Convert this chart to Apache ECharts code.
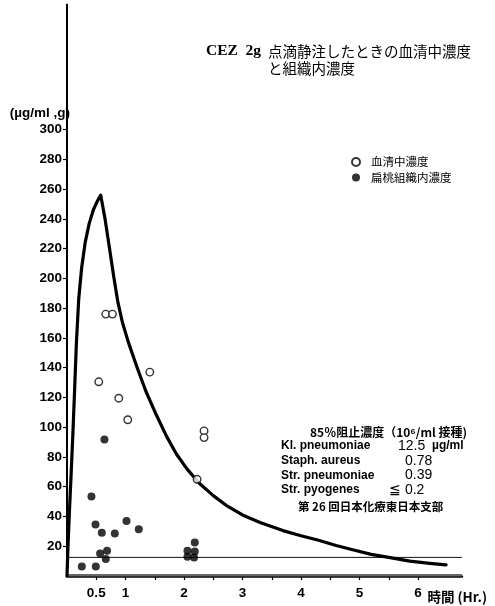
<!DOCTYPE html>
<html><head><meta charset="utf-8">
<script src="https://cdn.jsdelivr.net/npm/echarts@6/dist/echarts.min.js"></script>
<style>html,body{margin:0;padding:0;background:#fff}#c{width:495px;height:606px}</style>
</head><body><div id="c"></div>
<script>
// ---- data ----
const yTickValues = [20,40,60,80,100,120,140,160,180,200,220,240,260,280,300];
const xTickValues = [0.5,1,1.5,2,2.5,3,3.5,4,4.5,5,5.5,6];
const xLabelValues = [0.5,1,2,3,4,5,6];

// fitted serum curve (hours, µg/ml)
const curveHours  = [0.0,0.015,0.04,0.07,0.1,0.13,0.16,0.2,0.25,0.31,0.38,0.45,0.52,0.576,0.65,0.72,0.80,0.87,0.95,1.05,1.2,1.35,1.53,1.7,1.87,2.05,2.27,2.5,2.72,3.0,3.3,3.69,4.0,4.3,4.6,4.9,5.2,5.5,5.86,6.2,6.48];
const curveValues = [0,18,42,68,95,125,156,186,207,224,237,246,252,256,240,222,201,184,170,157,140,124,108,94,82,72,62,54,47.5,41,36,30.5,27,24,20.5,17.5,14.5,12.5,10,8.5,7.5];

// 血清中濃度 (open circles)
const serumHours  = [0.663,0.777,1.415,0.543,0.885,1.039,2.343,2.343,2.224];
const serumValues = [176,176,137,130.5,119.5,105,97.5,93,65];

// 扁桃組織内濃度 (filled circles)
const tissueHours  = [0.64,0.418,0.487,0.595,0.817,1.017,1.227,0.566,0.685,0.663,0.253,0.492,2.059,2.184,2.184,2.059,2.172];
const tissueValues = [91.7,53.4,34.6,29,28.6,37,31.5,15.1,16.9,11.5,6.4,6.4,17,22.5,16.5,13,12.5];

// 85% inhibitory concentrations (µg/ml)
const micNames  = ['Kl. pneumoniae','Staph. aureus','Str. pneumoniae','Str. pyogenes'];
const micValues = [12.5,0.78,0.39,0.2];
const micLabels = ['12.5','0.78','0.39','≦ 0.2'];

const xMax = 6.75, yMax = 384;

// ---- chart ----
const chart = echarts.init(document.getElementById('c'), null, {renderer:'canvas'});
const latin = 'Liberation Sans, Arial, sans-serif';
const cjk = 'Noto Sans CJK JP, sans-serif';

const micSeries = micValues.map((v,i)=>({
  type:'line', name:'mic'+i, silent:true, symbol:'none', z:1,
  data:[[0,v],[xMax,v]],
  lineStyle:{color: i===0 ? '#111' : '#666', width: i===0 ? 1 : 1.5}
}));

const option = {
  animation:false,
  backgroundColor:'#fff',
  grid:{left:67, right:495-67-xMax*58.5, top:606-30-yMax*1.488, bottom:30, containLabel:false},
  xAxis:{
    type:'value', min:0, max:xMax,
    axisLine:{show:true, lineStyle:{color:'#000', width:2.5}},
    axisTick:{show:true, length:4, customValues:xTickValues, lineStyle:{color:'#000', width:1.2}},
    axisLabel:{customValues:xLabelValues, margin:10, color:'#000', fontFamily:latin, fontWeight:'bold', fontSize:13.5,
      formatter:v=>String(v)},
    splitLine:{show:false}
  },
  yAxis:{
    type:'value', min:0, max:yMax,
    axisLine:{show:true, lineStyle:{color:'#000', width:2}},
    axisTick:{show:true, length:4, customValues:yTickValues, lineStyle:{color:'#000', width:1.2}},
    axisLabel:{customValues:yTickValues, margin:5, color:'#000', fontFamily:latin, fontWeight:'bold', fontSize:13.5},
    splitLine:{show:false}
  },
  legend:{
    left:346, top:151, orient:'vertical', itemWidth:8, itemHeight:8, itemGap:3.5,
    data:['血清中濃度','扁桃組織内濃度'],
    textStyle:{fontFamily:cjk, fontSize:11.5, color:'#000', lineHeight:12, padding:[0,0,0,6]},
    icon:'circle'
  },
  series:[
    ...micSeries,
    {type:'line', name:'curve', data:curveHours.map((h,i)=>[h,curveValues[i]]), symbol:'none',
      smooth:false, z:3, lineStyle:{color:'#000', width:3.2, join:'round', cap:'round'}},
    {type:'scatter', name:'血清中濃度', data:serumHours.map((h,i)=>[h,serumValues[i]]), symbol:'circle', symbolSize:7.5, z:5,
      itemStyle:{color:'#fff', borderColor:'#000', borderWidth:1.4}},
    {type:'scatter', name:'扁桃組織内濃度', data:tissueHours.map((h,i)=>[h,tissueValues[i]]), symbol:'circle', symbolSize:8, z:5,
      itemStyle:{color:'#000'}}
  ],
  graphic:[
    {type:'text', x:206, y:51, style:{text:'CEZ  2g', font:'bold 15.5px Liberation Serif, serif', fill:'#000', verticalAlign:'middle'}},
    {type:'text', x:268, y:51, style:{text:'点滴静注したときの血清中濃度', font:'14.5px '+cjk, fill:'#000', verticalAlign:'middle'}},
    {type:'text', x:268, y:68, style:{text:'と組織内濃度', font:'14.5px '+cjk, fill:'#000', verticalAlign:'middle'}},
    {type:'text', x:70, y:113, style:{text:'(µg/ml ,g)', font:'bold 13.5px '+latin, fill:'#000', align:'right', verticalAlign:'middle'}},
    {type:'text', x:487, y:597, style:{text:'時間 (Hr.)', font:'bold 13.5px '+cjk, fill:'#000', align:'right', verticalAlign:'middle'}},
    {type:'text', x:310, y:432, style:{text:'85％阻止濃度（10⁶/ml 接種)', font:'bold 12px '+cjk, fill:'#000', verticalAlign:'middle'}},
    ...micNames.map((n,i)=>({type:'text', x:281, y:446+i*14.7, style:{text:n, font:'bold 12px '+latin, fill:'#000', verticalAlign:'middle'}})),
    ...micLabels.map((n,i)=>({type:'text', x:(i===0?398:(i===3?389:405)), y:446+i*14.7, style:{text:n, font:'14px '+latin, fill:'#000', verticalAlign:'middle'}})),
    {type:'text', x:432, y:446, style:{text:'µg/ml', font:'bold 12px '+latin, fill:'#000', verticalAlign:'middle'}},
    {type:'text', x:298, y:507, style:{text:'第 26 回日本化療東日本支部', font:'bold 11.5px '+cjk, fill:'#000', verticalAlign:'middle'}}
  ]
};
chart.setOption(option);
</script>
</body></html>
